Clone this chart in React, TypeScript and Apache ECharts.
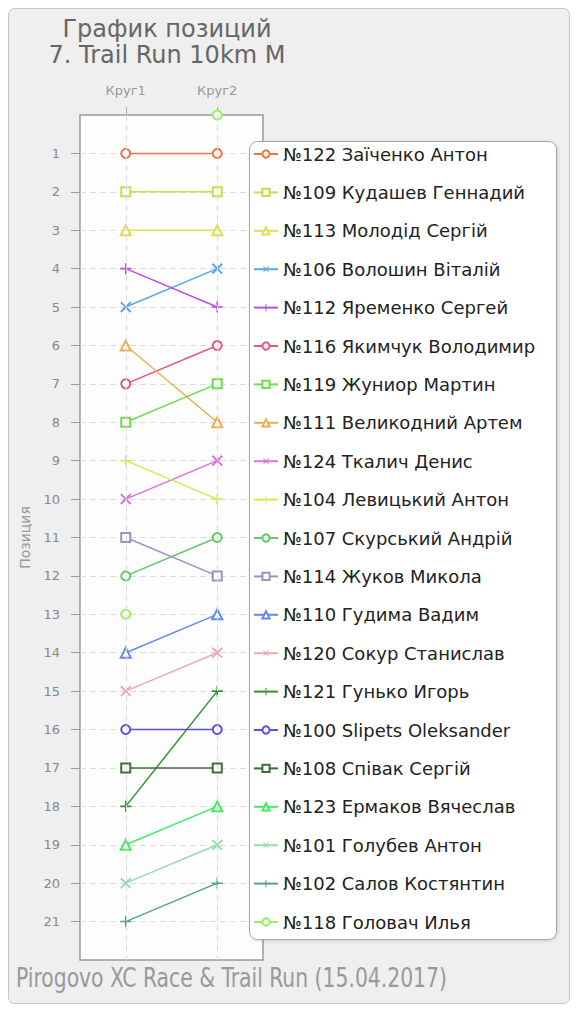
import React, { useEffect, useRef } from 'react';
import * as echarts from 'echarts';

const laps = ['Круг1', 'Круг2'];
const yTicks = [1, 2, 3, 4, 5, 6, 7, 8, 9, 10, 11, 12, 13, 14, 15, 16, 17, 18, 19, 20, 21];

const names = [
  '№122 Заїченко Антон',
  '№109 Кудашев Геннадий',
  '№113 Молодід Сергій',
  '№106 Волошин Віталій',
  '№112 Яременко Сергей',
  '№116 Якимчук Володимир',
  '№119 Жуниор Мартин',
  '№111 Великодний Артем',
  '№124 Ткалич Денис',
  '№104 Левицький Антон',
  '№107 Скурський Андрій',
  '№114 Жуков Микола',
  '№110 Гудима Вадим',
  '№120 Сокур Станислав',
  '№121 Гунько Игорь',
  '№100 Slipets Oleksander',
  '№108 Співак Сергій',
  '№123 Ермаков Вячеслав',
  '№101 Голубев Антон',
  '№102 Салов Костянтин',
  '№118 Головач Илья',
];

const lap1 = [1, 2, 3, 5, 4, 7, 8, 6, 10, 9, 12, 11, 14, 15, 18, 16, 17, 19, 20, 21, 13];
const lap2 = [1, 2, 3, 4, 5, 6, 7, 8, 9, 10, 11, 12, 13, 14, 15, 16, 17, 18, 19, 20, 0];

const colors = [
  '#f07048', '#c4e048', '#dede4e', '#58a8e8', '#b84ee8',
  '#e8557f', '#6cdc4c', '#e8b050', '#e070d4', '#d2ea4c',
  '#64c864', '#a090c0', '#6688f0', '#f0a8b8', '#2e962e',
  '#5a50e0', '#3a703a', '#40ec60', '#98dcb0', '#50a488',
  '#98f060',
];

const markerCycle = ['circle', 'rect', 'triangle', 'cross', 'plus'];

const PLUS = 'path://M4.3,0H5.7V4.3H10V5.7H5.7V10H4.3V5.7H0V4.3H4.3Z';

const titleLines = ['График позиций', '7. Trail Run 10km M'];
const footer = 'Pirogovo XC Race & Trail Run (15.04.2017)';
const yName = 'Позиция';

function symbolFor(kind: string) {
  switch (kind) {
    case 'circle': return { symbol: 'emptyCircle', symbolSize: 9, symbolRotate: 0 };
    case 'rect': return { symbol: 'emptyRect', symbolSize: 9, symbolRotate: 0 };
    case 'triangle': return { symbol: 'emptyTriangle', symbolSize: 10, symbolRotate: 0 };
    case 'cross': return { symbol: PLUS, symbolSize: 14, symbolRotate: 45 };
    default: return { symbol: PLUS, symbolSize: 11, symbolRotate: 0 };
  }
}

export default function App() {
  const ref = useRef<HTMLDivElement>(null);
  useEffect(() => {
    if (!ref.current) return;
    const chart = echarts.init(ref.current, null, { renderer: 'svg' });
    const font = 'DejaVu Sans';

    const series: any[] = names.map((name, k) => {
      const s = symbolFor(markerCycle[k % markerCycle.length]);
      const hideLine = lap2[k] === 0;
      return {
        type: 'line',
        name,
        data: [lap1[k], lap2[k]],
        symbol: s.symbol,
        symbolSize: s.symbolSize,
        symbolRotate: s.symbolRotate,
        showAllSymbol: true,
        clip: false,
        color: colors[k],
        itemStyle: { color: colors[k], borderWidth: 1.5 },
        lineStyle: { width: 1.5, color: colors[k], opacity: hideLine ? 0 : 1 },
        emphasis: { disabled: true },
        z: 2,
      };
    });

    series.unshift({
      type: 'line',
      name: '__vlines',
      data: [],
      z: 1,
      silent: true,
      markLine: {
        silent: true,
        symbol: ['none', 'none'],
        label: { show: false },
        lineStyle: { type: [6, 4], color: '#dcdcdc', width: 1 },
        emphasis: { disabled: true },
        data: laps.map((l) => ({ xAxis: l })),
      },
    });

    chart.setOption({
      animation: false,
      textStyle: { fontFamily: font },
      grid: {
        left: 72,
        top: 107,
        width: 183,
        height: 845,
        show: true,
        backgroundColor: '#fdfdfd',
        borderColor: '#9a9a9a',
        borderWidth: 1.5,
      },
      xAxis: {
        type: 'category',
        position: 'top',
        data: laps,
        boundaryGap: true,
        axisLine: { show: false },
        axisTick: { show: true, alignWithLabel: true, length: 8, lineStyle: { color: '#aaa' } },
        axisLabel: { color: '#999', fontSize: 13, margin: 18, fontFamily: font },
        splitLine: { show: false },
      },
      yAxis: {
        type: 'value',
        inverse: true,
        min: 0,
        max: 22,
        interval: 1,
        name: yName,
        nameLocation: 'middle',
        nameRotate: 90,
        nameGap: 48,
        nameTextStyle: { color: '#999', fontSize: 14, fontFamily: font },
        axisLine: { show: false },
        axisTick: { show: true, length: 9, customValues: yTicks, lineStyle: { color: '#999' } },
        axisLabel: {
          color: '#888',
          fontSize: 13,
          margin: 20,
          fontFamily: font,
          customValues: yTicks,
          formatter: (v: number) => (yTicks.includes(v) ? String(v) : ''),
        },
        splitLine: { show: true, lineStyle: { type: [6, 4], color: '#dcdcdc', width: 1 } },
      },
      legend: {
        orient: 'vertical',
        left: 245,
        top: 137,
        height: 820,
        padding: 0,
        itemWidth: 24,
        itemHeight: 9,
        itemGap: 20.4,
        z: 6,
        data: names.map((n, k) => (lap2[k] === 0 ? { name: n, lineStyle: { opacity: 1 } } : n)),
        textStyle: { fontSize: 18, color: '#222', fontFamily: font },
        selectedMode: false,
      },
      graphic: [
        {
          type: 'rect',
          z: -100,
          silent: true,
          shape: { x: 0.5, y: 0.5, width: 561, height: 995, r: 6 },
          style: { fill: '#efefef', stroke: '#c4c4c4', lineWidth: 1 },
        },
        {
          type: 'rect',
          z: 4,
          silent: true,
          shape: { x: 241.5, y: 133.5, width: 307, height: 798, r: 8 },
          style: {
            fill: '#ffffff',
            stroke: '#a8a8a8',
            lineWidth: 1,
            shadowBlur: 3,
            shadowOffsetX: 1,
            shadowOffsetY: 1,
            shadowColor: 'rgba(0,0,0,0.15)',
          },
        },
        {
          type: 'text',
          z: 5,
          silent: true,
          x: 159,
          y: 21,
          style: { text: titleLines[0], fill: '#666', font: `24px "${font}"`, textAlign: 'center', textVerticalAlign: 'middle' },
        },
        {
          type: 'text',
          z: 5,
          silent: true,
          x: 159,
          y: 47,
          style: { text: titleLines[1], fill: '#666', font: `24px "${font}"`, textAlign: 'center', textVerticalAlign: 'middle' },
        },
        {
          type: 'text',
          z: 5,
          silent: true,
          x: 8,
          y: 970,
          scaleX: 0.87,
          style: {
            text: footer,
            fill: '#999',
            font: `26px "Liberation Sans Narrow", "DejaVu Sans Condensed", sans-serif`,
            textAlign: 'left',
            textVerticalAlign: 'middle',
          },
        },
      ],
      series,
    });
    return () => chart.dispose();
  }, []);

  return <div ref={ref} style={{ width: 562, height: 996 }} />;
}
